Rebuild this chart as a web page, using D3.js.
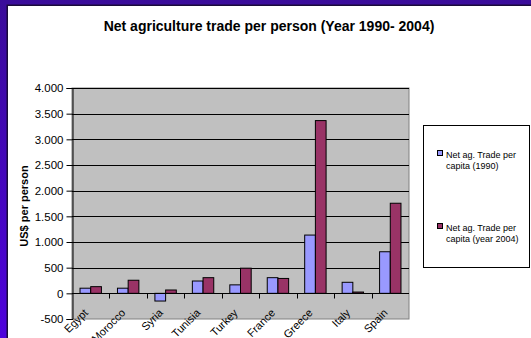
<!DOCTYPE html>
<html><head><meta charset="utf-8">
<script src="https://cdn.jsdelivr.net/npm/d3@7"></script>
<style>
html,body{margin:0;padding:0;overflow:hidden;}
body{width:531px;height:338px;background:linear-gradient(to bottom,#3a0c9a,#4e02dc);}
svg{position:absolute;left:0;top:0;}
text{font-family:"Liberation Sans",Arial,sans-serif;}
</style></head>
<body>
<script>
const categories = ["Egypt","Morocco","Syria","Tunisia","Turkey","France","Greece","Italy","Spain"];
const v1990 = [100, 100, -150, 240, 165, 305, 1135, 215, 810];
const v2004 = [130, 255, 65, 305, 490, 290, 3365, 25, 1755];
const seriesNames = ["Net ag. Trade per capita (1990)", "Net ag. Trade per capita (year 2004)"];
const yTicks = [-500, 0, 500, 1000, 1500, 2000, 2500, 3000, 3500, 4000];
const colors = ["#9999FF", "#993366"];

const W = 531, H = 338;
const svg = d3.select("body").append("svg").attr("width", W).attr("height", H);

// white panel with dark edge
svg.append("rect").attr("x", 6.5).attr("y", 4.5).attr("width", W).attr("height", H).attr("fill", "#1a0a3a");
svg.append("rect").attr("x", 8).attr("y", 6).attr("width", W).attr("height", H).attr("fill", "#ffffff");

const plot = {l: 72, r: 409, t: 88, b: 319};
const x = d3.scaleBand().domain(categories).range([plot.l, plot.r]).paddingInner(0.4286).paddingOuter(0.2143);
const xs = d3.scaleBand().domain([0,1]).range([0, x.bandwidth()]);
const y = d3.scaleLinear().domain([-500, 4000]).range([plot.b, plot.t]);

const loc = d3.formatLocale({decimal: ",", thousands: ".", grouping: [3], currency: ["", ""], minus: "-"});
const fmt = loc.format(",");

// title
svg.append("text").attr("x", 269).attr("y", 31).attr("text-anchor", "middle")
  .attr("font-size", "14px").attr("font-weight", "bold").attr("fill", "#000")
  .text("Net agriculture trade per person (Year 1990- 2004)");

// plot background
svg.append("rect").attr("x", plot.l).attr("y", plot.t).attr("width", plot.r - plot.l).attr("height", plot.b - plot.t)
  .attr("fill", "#C0C0C0").attr("stroke", "#808080").attr("stroke-width", 1);

// gridlines
svg.append("g").selectAll("line").data(yTicks.filter(d => d > -500 && d !== 0)).join("line")
  .attr("x1", plot.l).attr("x2", plot.r)
  .attr("y1", d => Math.round(y(d)) + 0.5).attr("y2", d => Math.round(y(d)) + 0.5)
  .attr("stroke", "#000").attr("stroke-width", 1);

// bars
const groups = svg.append("g").selectAll("g").data(categories).join("g")
  .attr("transform", d => `translate(${x(d)},0)`);
[v1990, v2004].forEach((vals, si) => {
  groups.append("rect")
    .attr("x", xs(si))
    .attr("width", xs.bandwidth())
    .attr("y", (d, i) => y(Math.max(0, vals[i])))
    .attr("height", (d, i) => Math.abs(y(vals[i]) - y(0)))
    .attr("fill", colors[si]).attr("stroke", "#000").attr("stroke-width", 1);
});

// y axis
const yAxis = d3.axisLeft(y).tickValues(yTicks).tickFormat(fmt).tickSize(6).tickPadding(3);
const gy = svg.append("g").attr("transform", `translate(${plot.l + 0.5},0)`).call(yAxis);
gy.select(".domain").attr("stroke", "#000");
gy.selectAll("text").attr("font-size", "11.5px").attr("font-family", "Liberation Sans, Arial, sans-serif").attr("fill", "#000");

// category axis at zero
const zy = Math.round(y(0)) + 0.5;
svg.append("line").attr("x1", plot.l).attr("x2", plot.r).attr("y1", zy).attr("y2", zy).attr("stroke", "#000");
svg.append("g").selectAll("line").data(categories.slice(1)).join("line")
  .attr("x1", d => Math.round(x(d) - x.step() * 0.2143) + 0.5)
  .attr("x2", d => Math.round(x(d) - x.step() * 0.2143) + 0.5)
  .attr("y1", zy).attr("y2", zy + 5).attr("stroke", "#000");

svg.append("g").selectAll("text").data(categories).join("text")
  .attr("transform", d => `translate(${x(d) + x.bandwidth() / 2 - 2},${zy + 20}) rotate(-45)`)
  .attr("text-anchor", "end").attr("font-size", "11px").attr("fill", "#000")
  .text(d => d);

// y axis title
svg.append("text").attr("transform", `translate(28,206) rotate(-90)`).attr("text-anchor", "middle")
  .attr("font-size", "11px").attr("font-weight", "bold").attr("fill", "#000").text("US$ per person");

// legend
const lg = svg.append("g");
lg.append("rect").attr("x", 423.5).attr("y", 125.5).attr("width", 106).attr("height", 142)
  .attr("fill", "#fff").attr("stroke", "#000").attr("stroke-width", 1);
const legendY = [154, 227];
seriesNames.forEach((name, i) => {
  const words = name.split(" ");
  const line1 = words.slice(0, 4).join(" ");
  const line2 = words.slice(4).join(" ");
  lg.append("rect").attr("x", 437.5).attr("y", legendY[i] - 3.5).attr("width", 5).attr("height", 5)
    .attr("fill", colors[i]).attr("stroke", "#000").attr("stroke-width", 1);
  lg.append("text").attr("x", 446).attr("y", legendY[i] + 3.5).attr("font-size", "9px").attr("fill", "#000").text(line1);
  lg.append("text").attr("x", 446).attr("y", legendY[i] + 15).attr("font-size", "9px").attr("fill", "#000").text(line2);
});
</script>
</body></html>
